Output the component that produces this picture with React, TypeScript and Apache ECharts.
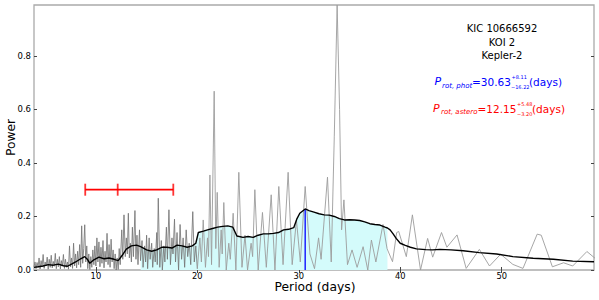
import React, { useEffect, useRef } from "react";
import * as echarts from "echarts";

// Raw periodogram (period in days, power)
const periodogram: [number, number][] = [
  [3.9, 0.012], [4.0, 0.03], [4.1, 0.005], [4.2, 0.028], [4.3, 0.01], [4.4, 0.045], [4.5, 0.004], [4.6, 0.035],
  [4.7, 0.012], [4.8, 0.058], [4.9, 0.006], [5.0, 0.03], [5.1, 0.015], [5.2, 0.048], [5.3, 0.003], [5.4, 0.04],
  [5.5, 0.01], [5.6, 0.055], [5.7, 0.008], [5.8, 0.032], [5.9, 0.014], [6.0, 0.062], [6.1, 0.005], [6.2, 0.04],
  [6.3, 0.012], [6.4, 0.05], [6.5, 0.004], [6.6, 0.035], [6.7, 0.015], [6.8, 0.058], [6.9, 0.006], [7.0, 0.04],
  [7.1, 0.01], [7.2, 0.03], [7.3, 0.003], [7.4, 0.09], [7.5, 0.012], [7.6, 0.045], [7.7, 0.006], [7.8, 0.1],
  [7.9, 0.015], [8.0, 0.06], [8.1, 0.008], [8.2, 0.07], [8.3, 0.02], [8.4, 0.095], [8.5, 0.01], [8.6, 0.165],
  [8.7, 0.025], [8.8, 0.08], [8.9, 0.169], [9.0, 0.03], [9.1, 0.09], [9.2, 0.005], [9.3, 0.06], [9.4, 0.002],
  [9.5, 0.05], [9.6, 0.01], [9.7, 0.075], [9.8, 0.02], [9.9, 0.09], [10.0, 0.015], [10.1, 0.12], [10.2, 0.03],
  [10.3, 0.105], [10.4, 0.012], [10.5, 0.085], [10.6, 0.025], [10.7, 0.11], [10.8, 0.008], [10.9, 0.07], [11.0, 0.03],
  [11.1, 0.137], [11.2, 0.02], [11.3, 0.095], [11.4, 0.01], [11.5, 0.115], [11.6, 0.03], [11.7, 0.075], [11.8, 0.005],
  [11.9, 0.06], [12.0, 0.0], [12.1, 0.045], [12.2, 0.002], [12.3, 0.08], [12.4, 0.02], [12.55, 0.15], [12.65, 0.04],
  [12.77, 0.206], [12.9, 0.05], [13.0, 0.12], [13.1, 0.06], [13.2, 0.212], [13.3, 0.045], [13.4, 0.1], [13.5, 0.03],
  [13.6, 0.16], [13.7, 0.05], [13.85, 0.222], [13.95, 0.04], [14.05, 0.13], [14.15, 0.02], [14.3, 0.15], [14.4, 0.035],
  [14.55, 0.11], [14.65, 0.01], [14.8, 0.09], [14.9, 0.03], [15.0, 0.13], [15.1, 0.005], [15.25, 0.12], [15.35, 0.04],
  [15.5, 0.1], [15.6, 0.01], [15.75, 0.08], [15.85, 0.03], [16.0, 0.14], [16.05, 0.02], [16.15, 0.268], [16.3, 0.01],
  [16.45, 0.11], [16.55, 0.0], [16.7, 0.09], [16.8, 0.03], [16.95, 0.16], [17.05, 0.04], [17.2, 0.225], [17.35, 0.02],
  [17.5, 0.12], [17.6, 0.06], [17.75, 0.19], [17.85, 0.03], [18.0, 0.14], [18.15, 0.0], [18.3, 0.17], [18.45, 0.04],
  [18.6, 0.12], [18.75, 0.01], [18.9, 0.15], [19.05, 0.05], [19.2, 0.1], [19.35, 0.02], [19.55, 0.218], [19.7, 0.03],
  [19.85, 0.09], [20.0, 0.005], [20.25, 0.12], [20.4, 0.03], [20.58, 0.187], [20.8, 0.01], [21.0, 0.12], [21.1, 0.05],
  [21.24, 0.355], [21.4, 0.02], [21.66, 0.668], [21.82, 0.08], [21.96, 0.29], [22.15, 0.01], [22.35, 0.15], [22.45, 0.06],
  [22.61, 0.252], [22.85, 0.0], [23.1, 0.1], [23.25, 0.04], [23.53, 0.212], [23.8, 0.0], [24.09, 0.365], [24.4, 0.01],
  [24.7, 0.13], [24.95, 0.0], [25.3, 0.1], [25.45, 0.05], [25.67, 0.3], [26.0, 0.0], [26.42, 0.215], [26.8, 0.01],
  [27.28, 0.281], [27.65, 0.0], [28.03, 0.312], [28.45, 0.02], [28.95, 0.365], [29.35, 0.02], [29.77, 0.187], [30.15, 0.03],
  [30.63, 0.312], [31.1, 0.06], [31.55, 0.005], [31.95, 0.12], [32.2, 0.04], [32.83, 0.347], [33.2, 0.03], [33.5, 0.5],
  [33.78, 0.99], [34.02, 0.6], [34.22, 0.15], [34.45, 0.262], [34.8, 0.02], [35.25, 0.075], [35.75, 0.01], [36.34, 0.087],
  [36.8, 0.0], [37.16, 0.112], [37.6, 0.03], [38.3, 0.17], [38.7, 0.08], [39.24, 0.031], [39.65, 0.14], [39.85, 0.144],
  [40.6, 0.05], [41.2, 0.206], [42.0, 0.0], [42.7, 0.118], [43.2, 0.048], [44.07, 0.14], [44.6, 0.085], [45.6, 0.131],
  [46.5, 0.006], [47.8, 0.077], [48.8, 0.015], [49.9, 0.059], [51.1, 0.021], [52.1, 0.006], [53.5, 0.134], [53.9, 0.13],
  [55.0, 0.012], [56.1, 0.027], [57.0, 0.015], [58.4, 0.069], [59.2, 0.044],
];

// Smoothed periodogram (black curve)
const smoothed: [number, number][] = [
  [3.9, 0.01], [4.3, 0.012], [4.8, 0.015], [5.3, 0.02], [5.8, 0.018], [6.3, 0.022], [6.8, 0.016], [7.2, 0.014],
  [7.6, 0.022], [8.0, 0.03], [8.5, 0.042], [8.9, 0.05], [9.2, 0.038], [9.4, 0.025], [9.8, 0.038], [10.3, 0.048],
  [10.8, 0.042], [11.3, 0.045], [11.8, 0.04], [12.2, 0.035], [12.6, 0.055], [13.0, 0.078], [13.5, 0.09], [14.0, 0.093],
  [14.41, 0.087], [15.0, 0.075], [15.5, 0.07], [16.0, 0.075], [16.5, 0.085], [17.0, 0.085], [17.5, 0.082], [18.0, 0.093],
  [18.5, 0.09], [19.0, 0.085], [19.5, 0.09], [19.85, 0.1], [20.1, 0.14], [20.6, 0.145], [21.0, 0.15], [21.5, 0.155],
  [22.0, 0.16], [22.5, 0.163], [23.0, 0.165], [23.5, 0.16], [23.9, 0.127], [24.5, 0.122], [25.0, 0.125], [25.5, 0.122],
  [26.0, 0.13], [26.5, 0.135], [27.0, 0.135], [27.5, 0.137], [28.0, 0.14], [28.5, 0.15], [29.0, 0.152], [29.5, 0.158],
  [29.8, 0.19], [30.1, 0.212], [30.63, 0.228], [31.0, 0.222], [31.5, 0.216], [32.0, 0.21], [32.5, 0.206], [33.0, 0.205],
  [33.5, 0.2], [34.0, 0.192], [34.5, 0.187], [35.0, 0.188], [35.5, 0.187], [36.0, 0.185], [36.5, 0.18], [37.0, 0.173],
  [37.5, 0.17], [38.0, 0.168], [38.5, 0.16], [38.74, 0.157], [39.0, 0.15], [39.3, 0.135], [39.6, 0.118], [40.0, 0.1],
  [40.5, 0.092], [41.0, 0.085], [41.6, 0.079], [42.5, 0.076], [43.2, 0.075], [43.9, 0.077], [45.0, 0.075], [46.2, 0.072],
  [47.8, 0.065], [49.5, 0.06], [51.1, 0.05], [53.1, 0.044], [55.1, 0.04], [57.0, 0.033], [59.1, 0.031],
];

const xTicks = [10, 20, 30, 40, 50];
const yTicks = [0, 0.2, 0.4, 0.6, 0.8];
const xRange = [3.9, 59.1];
const yRange = [0, 0.99];

const photPeriod = 30.63;
const photErrPlus = 8.11;
const photErrMinus = 16.22;
const photPeakPower = 0.228;

const asteroPeriod = 12.15;
const asteroErrPlus = 5.48;
const asteroErrMinus = 3.2;
const asteroBarLevel = 0.3;

const starLabels = ["KIC 10666592", "KOI 2", "Kepler-2"];
const xTitle = "Period (days)";
const yTitle = "Power";

const FONT = '"DejaVu Sans", Verdana, sans-serif';

function txt(text: string, x: number, y: number, size: number, color: string, opts: any = {}) {
  return {
    type: "text",
    x,
    y,
    rotation: opts.rotation || 0,
    silent: true,
    style: {
      text,
      fill: color,
      fontSize: size,
      fontFamily: FONT,
      fontStyle: opts.italic ? "italic" : "normal",
      align: opts.align || "left",
      textAlign: opts.align || "left",
      verticalAlign: "middle",
      textVerticalAlign: "middle",
    },
  };
}

export default function App() {
  const ref = useRef<HTMLDivElement>(null);

  useEffect(() => {
    if (!ref.current) return;
    const chart = echarts.init(ref.current, undefined, { renderer: "svg" });

    const lo = photPeriod - photErrMinus - 1e-6;
    const hi = photPeriod + photErrPlus + 1e-6;
    const fillData = smoothed.filter((p) => p[0] >= lo && p[0] <= hi);
    const denseGray = periodogram.filter((p) => p[0] <= 20.0);
    const sparseGray = periodogram.filter((p) => p[0] >= 20.0);

    const astLo = asteroPeriod - asteroErrMinus;
    const astHi = asteroPeriod + asteroErrPlus;

    const tickStyle = { color: "#444", width: 1 };

    const option: any = {
      animation: false,
      grid: {
        left: 34,
        right: 5,
        top: 5,
        bottom: 30,
        show: true,
        borderColor: "#aaaaaa",
        borderWidth: 1.3,
        containLabel: false,
        outerBoundsMode: "none",
      },
      xAxis: [
        {
          type: "value",
          min: xRange[0],
          max: xRange[1],
          position: "bottom",
          axisLine: { show: false },
          splitLine: { show: false },
          axisTick: { inside: true, length: 3, lineStyle: tickStyle, customValues: xTicks },
          axisLabel: {
            color: "#000",
            fontSize: 8.3,
            fontFamily: FONT,
            margin: 2,
            customValues: xTicks,
            formatter: (v: number) => (xTicks.some((t) => Math.abs(t - v) < 1e-6) ? String(Math.round(v)) : ""),
          },
        },
        {
          type: "value",
          min: xRange[0],
          max: xRange[1],
          position: "top",
          axisLine: { show: false },
          splitLine: { show: false },
          axisTick: { inside: true, length: 3, lineStyle: tickStyle, customValues: xTicks },
          axisLabel: { show: false },
        },
      ],
      yAxis: [
        {
          type: "value",
          min: yRange[0],
          max: yRange[1],
          interval: 0.2,
          position: "left",
          axisLine: { show: false },
          splitLine: { show: false },
          axisTick: { inside: true, length: 3, lineStyle: tickStyle, customValues: yTicks },
          axisLabel: {
            color: "#000",
            fontSize: 8.5,
            fontFamily: FONT,
            margin: 3,
            customValues: yTicks,
            formatter: (v: number) => (yTicks.some((t) => Math.abs(t - v) < 1e-6) ? v.toFixed(1) : ""),
          },
        },
        {
          type: "value",
          min: yRange[0],
          max: yRange[1],
          interval: 0.2,
          position: "right",
          axisLine: { show: false },
          splitLine: { show: false },
          axisTick: { inside: true, length: 3, lineStyle: tickStyle, customValues: yTicks },
          axisLabel: { show: false },
        },
      ],
      series: [
        {
          type: "line",
          data: fillData,
          symbol: "none",
          silent: true,
          lineStyle: { width: 0, opacity: 0 },
          areaStyle: { color: "#d4fbfb", opacity: 1 },
          z: 1,
        },
        {
          type: "line",
          data: denseGray,
          symbol: "none",
          silent: true,
          lineStyle: { width: 0.85, color: "#767676" },
          z: 2,
        },
        {
          type: "line",
          data: sparseGray,
          symbol: "none",
          silent: true,
          lineStyle: { width: 0.9, color: "#9c9c9c" },
          z: 2,
        },
        {
          type: "line",
          data: [
            [photPeriod, 0],
            [photPeriod, photPeakPower],
          ],
          symbol: "none",
          silent: true,
          lineStyle: { width: 1.3, color: "#0000ff" },
          z: 3,
        },
        {
          type: "line",
          data: smoothed,
          symbol: "none",
          silent: true,
          lineStyle: { width: 1.4, color: "#000000" },
          z: 4,
        },
        {
          type: "line",
          data: [
            [astLo, asteroBarLevel],
            [astHi, asteroBarLevel],
          ],
          symbol: "none",
          silent: true,
          lineStyle: { width: 1.8, color: "#ff0000" },
          z: 5,
        },
        {
          type: "scatter",
          data: [
            [astLo, asteroBarLevel],
            [asteroPeriod, asteroBarLevel],
            [astHi, asteroBarLevel],
          ],
          symbol: "rect",
          symbolSize: [1.8, 12],
          silent: true,
          itemStyle: { color: "#ff0000" },
          z: 5,
        },
      ],
      graphic: [
        txt(xTitle, 315, 287, 12.3, "#000", { align: "center" }),
        txt(yTitle, 10.7, 137.5, 12.3, "#000", { align: "center", rotation: Math.PI / 2 }),

        txt(starLabels[0], 502, 28.7, 10, "#000", { align: "center" }),
        txt(starLabels[1], 502, 42.2, 10, "#000", { align: "center" }),
        txt(starLabels[2], 502, 55.5, 10, "#000", { align: "center" }),

        txt("P", 434.5, 81.5, 11, "#0000ff", { italic: true }),
        txt("rot, phot", 442, 85.5, 7, "#0000ff", { italic: true }),
        txt("=" + photPeriod.toFixed(2), 472, 81.5, 10.5, "#0000ff"),
        txt("+" + photErrPlus.toFixed(2), 511.5, 77, 5, "#0000ff"),
        txt("\u2212" + photErrMinus.toFixed(2), 511, 87, 5, "#0000ff"),
        txt("(days)", 529, 81.5, 10.5, "#0000ff"),

        txt("P", 433, 108.5, 11, "#ff0000", { italic: true }),
        txt("rot, astero", 441, 112, 7, "#ff0000", { italic: true }),
        txt("=" + asteroPeriod.toFixed(2), 477.5, 108.5, 10.5, "#ff0000"),
        txt("+" + asteroErrPlus.toFixed(2), 517, 104, 5, "#ff0000"),
        txt("\u2212" + asteroErrMinus.toFixed(2), 517, 114, 5, "#ff0000"),
        txt("(days)", 532, 108.5, 10.5, "#ff0000"),
      ],
    };

    chart.setOption(option);
    return () => chart.dispose();
  }, []);

  return <div ref={ref} style={{ width: 599, height: 300, position: "absolute", left: 0, top: 0 }} />;
}
